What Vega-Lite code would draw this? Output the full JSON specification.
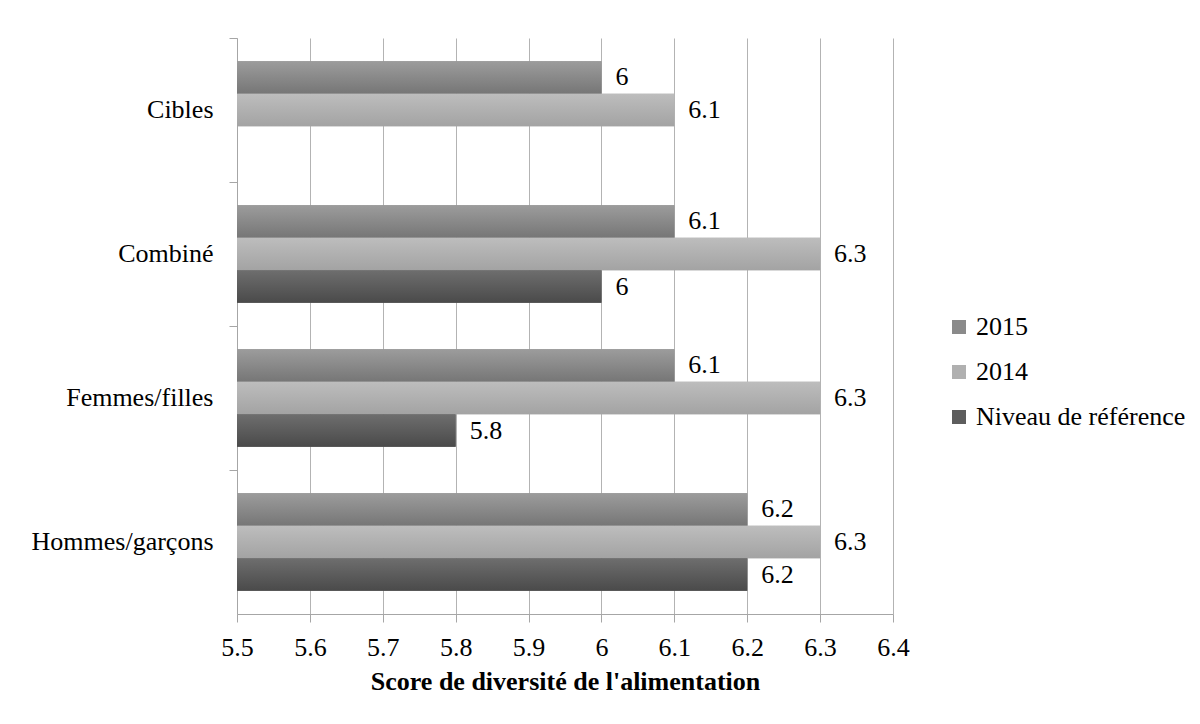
{
  "$schema": "https://vega.github.io/schema/vega-lite/v6.json",
  "width": 656,
  "height": 576,
  "autosize": {"type": "none"},
  "padding": {"left": 237, "top": 38, "right": 307, "bottom": 110},
  "background": "white",
  "config": {
    "view": {"stroke": null},
    "font": "Liberation Serif"
  },
  "data": {
    "values": [
      {"cat": "Cibles", "series": "2015", "value": 6.0},
      {"cat": "Cibles", "series": "2014", "value": 6.1},
      {"cat": "Combiné", "series": "2015", "value": 6.1},
      {"cat": "Combiné", "series": "2014", "value": 6.3},
      {"cat": "Combiné", "series": "Niveau de référence", "value": 6.0},
      {"cat": "Femmes/filles", "series": "2015", "value": 6.1},
      {"cat": "Femmes/filles", "series": "2014", "value": 6.3},
      {"cat": "Femmes/filles", "series": "Niveau de référence", "value": 5.8},
      {"cat": "Hommes/garçons", "series": "2015", "value": 6.2},
      {"cat": "Hommes/garçons", "series": "2014", "value": 6.3},
      {"cat": "Hommes/garçons", "series": "Niveau de référence", "value": 6.2}
    ]
  },
  "encoding": {
    "y": {
      "field": "cat", "type": "nominal",
      "sort": ["Cibles", "Combiné", "Femmes/filles", "Hommes/garçons"],
      "scale": {"paddingInner": 0, "paddingOuter": 0},
      "axis": {
        "title": null, "bandPosition": 0, "tickSize": 8, "tickColor": "#a6a6a6",
        "domainColor": "#a6a6a6", "labelFontSize": 26, "labelFont": "Liberation Serif",
        "labelColor": "#000000", "labelPadding": 16, "grid": false, "labelLimit": 0
      }
    },
    "yOffset": {
      "field": "series", "type": "nominal",
      "sort": ["2015", "2014", "Niveau de référence"],
      "scale": {"domain": ["2015", "2014", "Niveau de référence"], "paddingInner": 0, "paddingOuter": 0.715}
    },
    "x": {
      "field": "value", "type": "quantitative",
      "scale": {"domain": [5.5, 6.4], "zero": false, "nice": false},
      "axis": {
        "title": "Score de diversité de l'alimentation",
        "values": [5.5, 5.6, 5.7, 5.8, 5.9, 6.0, 6.1, 6.2, 6.3, 6.4],
        "format": "~g",
        "grid": true, "gridColor": "#b3b3b3", "gridWidth": 1,
        "tickSize": 8, "tickColor": "#a6a6a6", "domainColor": "#a6a6a6",
        "labelFontSize": 26, "labelFont": "Liberation Serif", "labelColor": "#000000",
        "labelPadding": 12, "labelFlush": false, "labelOverlap": false,
        "titleFontSize": 26, "titleFont": "Liberation Serif", "titleFontWeight": "bold",
        "titleColor": "#000000", "titlePadding": 8
      }
    }
  },
  "layer": [
    {
      "mark": {"type": "bar"},
      "encoding": {
        "x2": {"datum": 5.5},
        "color": {
          "field": "series", "type": "nominal",
          "sort": ["2015", "2014", "Niveau de référence"],
          "scale": {"domain": ["2015", "2014", "Niveau de référence"], "range": ["#8a8a8a", "#b0b0b0", "#5d5d5d"]},
          "legend": {
            "title": null, "orient": "none", "legendX": 709, "legendY": 276,
            "symbolType": "square", "symbolSize": 196, "symbolStrokeWidth": 0,
            "labelFontSize": 26, "labelFont": "Liberation Serif", "labelColor": "#000000",
            "labelOffset": 4, "rowPadding": 19, "labelLimit": 0
          }
        }
      }
    },
    {
      "transform": [{"filter": "datum.series === '2015'"}],
      "mark": {"type": "bar", "fill": {"gradient": "linear", "x1": 0, "y1": 0, "x2": 0, "y2": 1,
        "stops": [{"offset": 0, "color": "#9c9c9c"}, {"offset": 1, "color": "#767676"}]}},
      "encoding": {"x2": {"datum": 5.5}}
    },
    {
      "transform": [{"filter": "datum.series === '2014'"}],
      "mark": {"type": "bar", "fill": {"gradient": "linear", "x1": 0, "y1": 0, "x2": 0, "y2": 1,
        "stops": [{"offset": 0, "color": "#bdbdbd"}, {"offset": 1, "color": "#a3a3a3"}]}},
      "encoding": {"x2": {"datum": 5.5}}
    },
    {
      "transform": [{"filter": "datum.series === 'Niveau de référence'"}],
      "mark": {"type": "bar", "fill": {"gradient": "linear", "x1": 0, "y1": 0, "x2": 0, "y2": 1,
        "stops": [{"offset": 0, "color": "#6e6e6e"}, {"offset": 1, "color": "#4a4a4a"}]}},
      "encoding": {"x2": {"datum": 5.5}}
    },
    {
      "mark": {"type": "text", "align": "left", "baseline": "middle", "dx": 14,
        "fontSize": 26, "font": "Liberation Serif", "color": "#000000"},
      "encoding": {
        "text": {"field": "value", "type": "quantitative", "format": "~g"}
      }
    }
  ]
}
